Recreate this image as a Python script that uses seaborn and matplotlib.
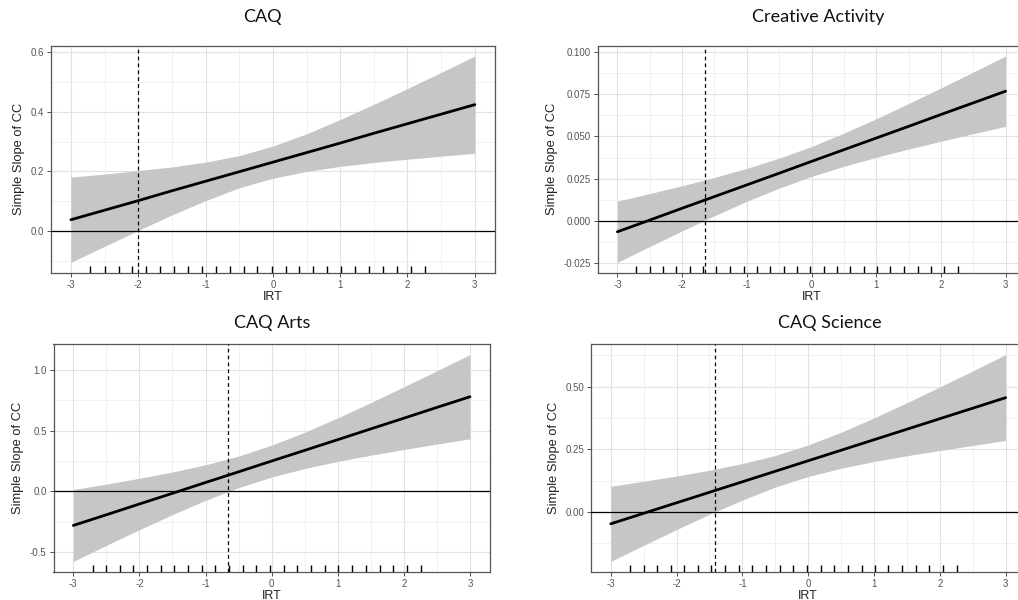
import matplotlib
matplotlib.use('Agg')
import matplotlib.pyplot as plt
import seaborn as sns
import pandas as pd
from matplotlib.ticker import FormatStrFormatter, MultipleLocator

irt_grid = [-3, -2.5, -2, -1.5, -1, -0.5, 0, 0.5, 1, 1.5, 2, 2.5, 3]

# observed IRT values (rug)
rug_irt = [-2.71, -2.50, -2.29, -2.09, -1.88, -1.67, -1.47, -1.26, -1.05, -0.85,
           -0.64, -0.43, -0.23, -0.02, 0.19, 0.39, 0.60, 0.81, 1.01, 1.22,
           1.43, 1.64, 1.84, 2.05, 2.26]

titles = ['CAQ', 'Creative Activity', 'CAQ Arts', 'CAQ Science']

caq_slope = [0.038, 0.070, 0.102, 0.135, 0.167, 0.199, 0.231, 0.263, 0.295, 0.328, 0.360, 0.392, 0.424]
caq_lower = [-0.105, -0.051, 0.002, 0.054, 0.102, 0.145, 0.177, 0.200, 0.217, 0.230, 0.241, 0.251, 0.261]
caq_upper = [0.181, 0.191, 0.203, 0.215, 0.231, 0.253, 0.285, 0.326, 0.374, 0.425, 0.478, 0.532, 0.587]
caq_jn = -2.0

act_slope = [-0.0064, 0.0005, 0.0075, 0.0144, 0.0213, 0.0282, 0.0352, 0.0421, 0.0490, 0.0559, 0.0629, 0.0698, 0.0767]
act_lower = [-0.0245, -0.0151, -0.0059, 0.0031, 0.0116, 0.0194, 0.0263, 0.0323, 0.0376, 0.0425, 0.0471, 0.0516, 0.0559]
act_upper = [0.0117, 0.0162, 0.0208, 0.0257, 0.0311, 0.0371, 0.0440, 0.0519, 0.0604, 0.0694, 0.0786, 0.0880, 0.0975]
act_jn = -1.65

arts_slope = [-0.281, -0.193, -0.104, -0.016, 0.073, 0.161, 0.250, 0.338, 0.426, 0.515, 0.603, 0.692, 0.780]
arts_lower = [-0.577, -0.445, -0.316, -0.191, -0.074, 0.031, 0.118, 0.188, 0.247, 0.298, 0.345, 0.390, 0.433]
arts_upper = [0.015, 0.060, 0.108, 0.160, 0.219, 0.291, 0.381, 0.487, 0.606, 0.732, 0.862, 0.994, 1.127]
arts_jn = -0.655

sci_slope = [-0.048, -0.006, 0.036, 0.078, 0.120, 0.162, 0.204, 0.246, 0.288, 0.330, 0.372, 0.414, 0.456]
sci_lower = [-0.198, -0.134, -0.071, -0.010, 0.047, 0.099, 0.141, 0.174, 0.201, 0.224, 0.245, 0.265, 0.285]
sci_upper = [0.102, 0.122, 0.143, 0.166, 0.193, 0.225, 0.267, 0.318, 0.375, 0.436, 0.499, 0.563, 0.628]
sci_jn = -1.415

sns.set_style('ticks')
plt.rcParams['font.family'] = ['Liberation Sans', 'DejaVu Sans']
plt.rcParams['axes.unicode_minus'] = False

fig = plt.figure(figsize=(10.18, 6.0), dpi=100)

boxes = [
    [50.7 / 1018, 1 - 272.7 / 600, 444.3 / 1018, 227 / 600],
    [598.0 / 1018, 1 - 272.7 / 600, 427.0 / 1018, 227 / 600],
    [53.5 / 1018, 1 - 571.7 / 600, 436.3 / 1018, 227.4 / 600],
    [591.0 / 1018, 1 - 571.7 / 600, 434.4 / 1018, 227.4 / 600],
]
title_pos = [(262, 17), (818, 17), (272, 323), (830, 323)]
panels = [
    (caq_slope, caq_lower, caq_upper, caq_jn, 0.2, 0.1, '%.1f'),
    (act_slope, act_lower, act_upper, act_jn, 0.025, 0.0125, '%.3f'),
    (arts_slope, arts_lower, arts_upper, arts_jn, 0.5, 0.25, '%.1f'),
    (sci_slope, sci_lower, sci_upper, sci_jn, 0.25, 0.125, '%.2f'),
]

for i, (slope, lower, upper, jn, major, minor, fmt) in enumerate(panels):
    ax = fig.add_axes(boxes[i])
    df = pd.DataFrame({'irt': irt_grid, 'slope': slope, 'lower': lower, 'upper': upper})

    ax.fill_between(df['irt'], df['lower'], df['upper'], color='#c6c6c6', lw=0, zorder=2)
    sns.lineplot(data=df, x='irt', y='slope', ax=ax, color='black', lw=2.0, zorder=4)
    ax.axhline(0, color='black', lw=0.9, zorder=3)
    ax.axvline(jn, color='black', lw=0.9, ls=(0, (3, 2.5)), zorder=3)
    sns.rugplot(x=rug_irt, ax=ax, height=0.03, color='black', lw=0.9, zorder=3)

    # ggplot-style 5% expansion
    lo, hi = min(lower), max(upper)
    pad = (hi - lo) * 0.05
    ax.set_ylim(lo - pad, hi + pad)
    ax.set_xlim(-3.3, 3.3)

    ax.xaxis.set_major_locator(MultipleLocator(1))
    ax.xaxis.set_minor_locator(MultipleLocator(0.5))
    ax.yaxis.set_major_locator(MultipleLocator(major))
    ax.yaxis.set_minor_locator(MultipleLocator(minor))
    ax.yaxis.set_major_formatter(FormatStrFormatter(fmt))
    ax.xaxis.set_major_formatter(FormatStrFormatter('%d'))

    ax.grid(which='major', color='#e2e2e2', lw=0.8, zorder=0)
    ax.grid(which='minor', color='#ececec', lw=0.5, zorder=0)
    ax.set_axisbelow(True)
    ax.tick_params(which='major', length=3, width=0.6, color='#333333',
                   labelsize=7, labelcolor='#555555', pad=2)
    ax.tick_params(which='minor', length=0)
    for s in ax.spines.values():
        s.set_color('#555555')
        s.set_linewidth(0.9)

    ax.set_xlabel('IRT', fontsize=9, color='#222222', labelpad=1)
    ax.set_ylabel('Simple Slope of CC', fontsize=9.3, color='#222222', labelpad=4)

    tx, ty = title_pos[i]
    fig.text(tx / 1018, 1 - ty / 600, titles[i], ha='center', va='center',
             fontsize=13, family=['Lato', 'DejaVu Sans'], color='#111111')

fig.savefig('out.png', dpi=100)
